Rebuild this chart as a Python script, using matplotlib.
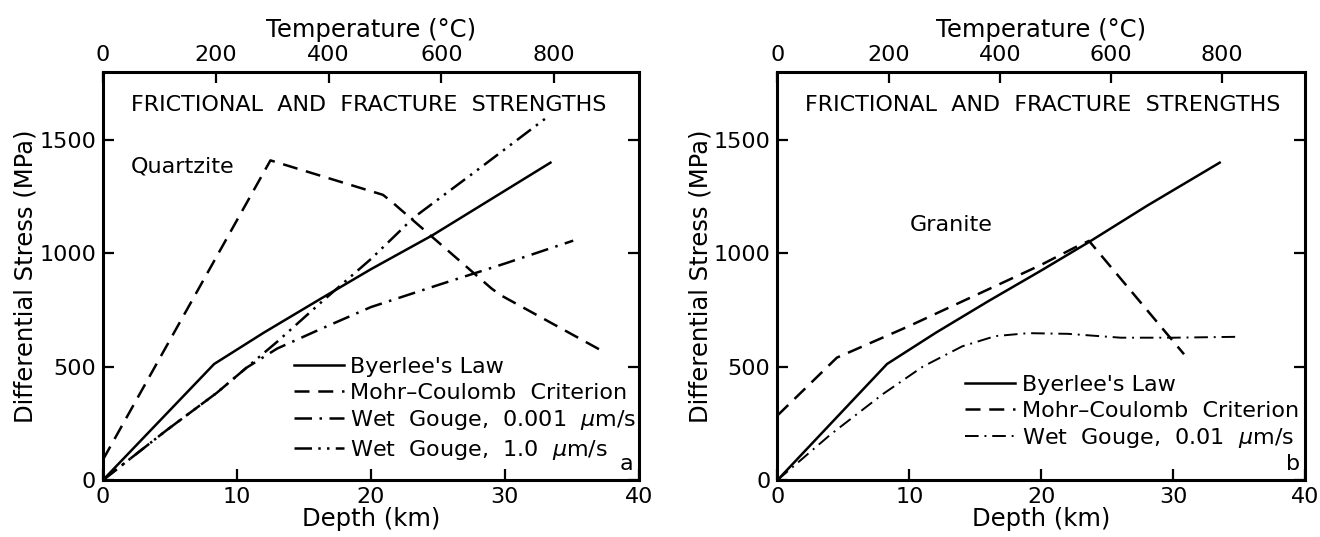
import matplotlib
matplotlib.use("Agg")
import matplotlib.pyplot as plt

plt.rcParams["font.family"] = ["DejaVu Sans"]

# depth (km) / differential stress (MPa)
# panel a: quartzite
qz_byerlee_depth = [0, 8.3, 12.0, 16.4, 20.0, 24.6, 29.0, 33.4]
qz_byerlee_stress = [0, 512, 650, 805, 930, 1080, 1240, 1400]

qz_mohr_depth = [0, 12.5, 20.9, 21.6, 29.0, 29.7, 37.4]
qz_mohr_stress = [90, 1410, 1258, 1225, 845, 815, 565]

qz_gouge_slow_depth = [0, 4.75, 8.5, 10.7, 13.0, 16.2, 20.0, 25.0, 30.0, 35.1]
qz_gouge_slow_stress = [0, 220, 385, 495, 580, 665, 763, 860, 955, 1056]

qz_gouge_fast_depth = [0, 4.75, 8.5, 10.7, 13.0, 16.4, 20.0, 23.2, 28.0, 33.1]
qz_gouge_fast_stress = [0, 220, 385, 495, 610, 790, 975, 1158, 1370, 1598]

# panel b: granite
gr_byerlee_depth = [0, 8.3, 12.0, 16.0, 20.0, 23.6, 28.0, 33.5]
gr_byerlee_stress = [0, 512, 650, 790, 925, 1050, 1210, 1400]

gr_mohr_depth = [0, 4.5, 10.0, 15.0, 20.0, 22.5, 23.6, 30.8]
gr_mohr_stress = [285, 540, 680, 815, 950, 1025, 1055, 555]

gr_gouge_depth = [0, 4.0, 8.0, 11.0, 14.0, 16.5, 19.0, 22.0, 26.0, 30.0, 35.0]
gr_gouge_stress = [0, 200, 380, 500, 590, 635, 648, 645, 628, 628, 632]

depth_ticks = [0, 10, 20, 30, 40]
stress_ticks = [0, 500, 1000, 1500]
temp_ticks = [0, 200, 400, 600, 800]
temp_max = 950

FS = 16
LFS = 17.5
LW = 1.8
dash_ls = (0, (6, 3.5))
dashdot_ls = (0, (7, 3, 1, 3))
dashdotdot_ls = (0, (7, 2.5, 1, 2.5, 1, 2.5))


def style_axes(ax, tag):
    ax.set_xlim(0, 40)
    ax.set_ylim(0, 1800)
    ax.set_xticks(depth_ticks)
    ax.set_yticks(stress_ticks)
    ax.tick_params(direction="in", length=8, width=1.6, labelsize=FS,
                   right=True, pad=5)
    for sp in ax.spines.values():
        sp.set_linewidth(2.2)
    ax.set_xlabel("Depth (km)", fontsize=LFS, labelpad=0)
    ax.set_ylabel("Differential Stress (MPa)", fontsize=LFS, labelpad=1)

    top = ax.twiny()
    top.set_xlim(0, temp_max)
    top.set_xticks(temp_ticks)
    top.tick_params(direction="in", length=8, width=1.6, labelsize=FS, pad=5)
    top.set_xlabel("Temperature (°C)", fontsize=LFS, labelpad=6)

    ax.text(2.1, 1655, "FRICTIONAL  AND  FRACTURE  STRENGTHS", fontsize=FS,
            va="center", ha="left")
    ax.text(39.6, 25, tag, fontsize=FS, ha="right", va="bottom")


fig = plt.figure(figsize=(13.2, 5.37), dpi=100)
ax1 = fig.add_axes([0.078, 0.106, 0.406, 0.760])
ax2 = fig.add_axes([0.589, 0.106, 0.400, 0.760])

# panel a
ax1.plot(qz_byerlee_depth, qz_byerlee_stress, color="black", lw=LW,
         label="Byerlee's Law")
ax1.plot(qz_mohr_depth, qz_mohr_stress, color="black", lw=LW, ls=dash_ls,
         label="Mohr\u2013Coulomb  Criterion")
ax1.plot(qz_gouge_slow_depth, qz_gouge_slow_stress, color="black", lw=LW,
         ls=dashdot_ls, label="Wet  Gouge,  0.001  $\\mu$m/s")
ax1.plot(qz_gouge_fast_depth, qz_gouge_fast_stress, color="black", lw=LW,
         ls=dashdotdot_ls, label="Wet  Gouge,  1.0  $\\mu$m/s")
style_axes(ax1, "a")
ax1.text(2.1, 1385, "Quartzite", fontsize=FS, va="center")
ax1.legend(loc="lower left", bbox_to_anchor=(0.335, 0.018), frameon=False,
           fontsize=FS, handlelength=2.25, handletextpad=0.3,
           labelspacing=0.25, borderpad=0)

# panel b
ax2.plot(gr_byerlee_depth, gr_byerlee_stress, color="black", lw=LW,
         label="Byerlee's Law")
ax2.plot(gr_mohr_depth, gr_mohr_stress, color="black", lw=LW, ls=dash_ls,
         label="Mohr\u2013Coulomb  Criterion")
ax2.plot(gr_gouge_depth, gr_gouge_stress, color="black", lw=1.4,
         ls=dashdot_ls, label="Wet  Gouge,  0.01  $\\mu$m/s")
style_axes(ax2, "b")
ax2.text(10, 1125, "Granite", fontsize=FS, va="center")
ax2.legend(loc="lower left", bbox_to_anchor=(0.335, 0.046), frameon=False,
           fontsize=FS, handlelength=2.25, handletextpad=0.3,
           labelspacing=0.25, borderpad=0)

fig.savefig("out.png", dpi=100)
